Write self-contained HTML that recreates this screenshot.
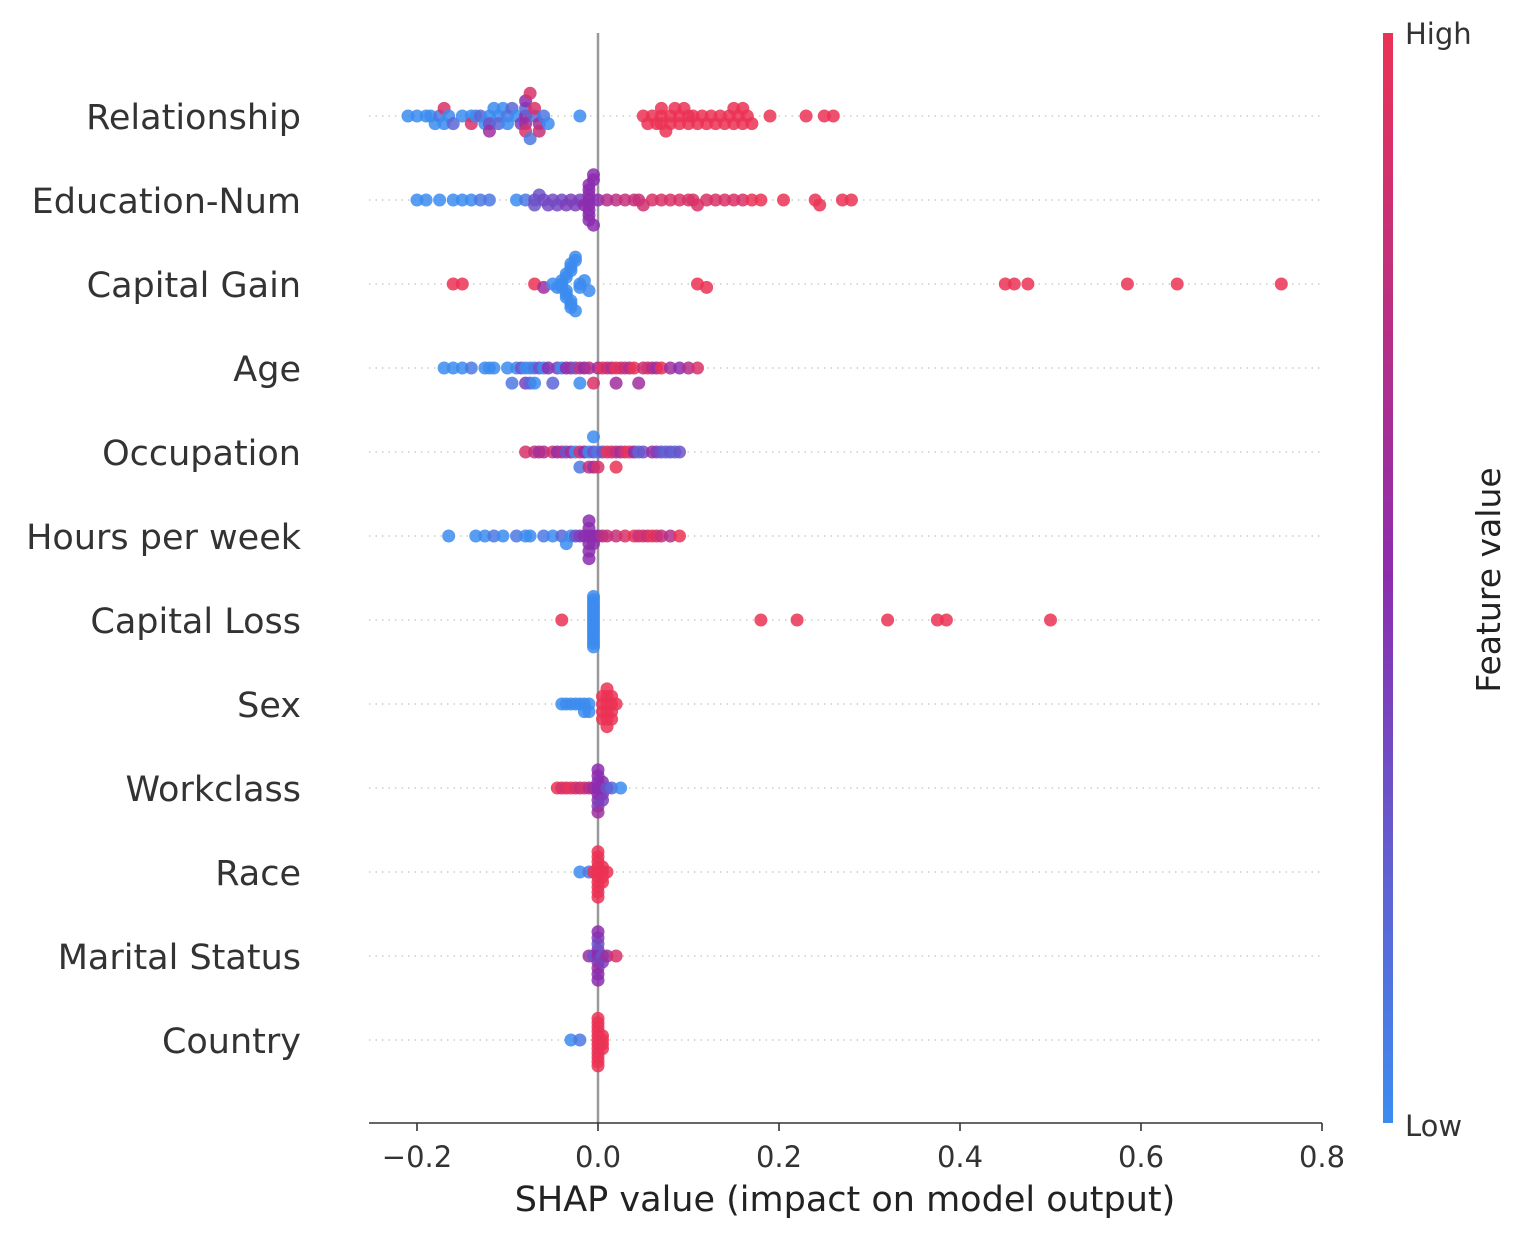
<!DOCTYPE html>
<html><head><meta charset="utf-8">
<style>
html,body{margin:0;padding:0;background:#fff;}
svg{display:block;font-family:"DejaVu Sans","Liberation Sans",sans-serif;}
</style></head>
<body>
<svg id="chart" width="1528" height="1240" viewBox="0 0 1528 1240" xmlns="http://www.w3.org/2000/svg">
<defs>
<linearGradient id="cbar" x1="0" y1="1" x2="0" y2="0">
<stop offset="0" stop-color="rgb(60,140,240)"/>
<stop offset="0.5" stop-color="rgb(140,45,175)"/>
<stop offset="1" stop-color="rgb(235,50,85)"/>
</linearGradient>
</defs>
<g id="grid"></g>
<g id="dots"></g>
<g id="axes"></g>
</svg>
<script>
const features = ["Relationship","Education-Num","Capital Gain","Age","Occupation","Hours per week","Capital Loss","Sex","Workclass","Race","Marital Status","Country"];
const xTicks = [-0.2,0.0,0.2,0.4,0.6,0.8];
const xTickLabels = ["\u22120.2","0.0","0.2","0.4","0.6","0.8"];
const shapValues = [
 [-0.21,-0.2,-0.19,-0.185,-0.18,-0.175,-0.17,-0.165,-0.16,-0.15,-0.14,-0.135,-0.13,-0.125,-0.12,-0.12,-0.115,-0.11,-0.11,-0.105,-0.1,-0.1,-0.095,-0.09,-0.085,-0.08,-0.08,-0.08,-0.08,-0.08,-0.075,-0.07,-0.065,-0.06,-0.055,-0.02,-0.17,-0.14,-0.12,-0.075,-0.07,-0.065,0.05,0.055,0.06,0.065,0.07,0.07,0.07,0.075,0.08,0.08,0.085,0.09,0.09,0.095,0.1,0.1,0.105,0.11,0.115,0.12,0.125,0.13,0.135,0.14,0.145,0.15,0.15,0.155,0.16,0.16,0.165,0.17,0.19,0.23,0.25,0.26],
 [-0.2,-0.19,-0.175,-0.16,-0.15,-0.14,-0.13,-0.12,-0.09,-0.08,-0.07,-0.07,-0.065,-0.06,-0.055,-0.05,-0.045,-0.04,-0.035,-0.03,-0.025,-0.02,-0.015,-0.01,-0.01,-0.01,-0.01,-0.01,-0.01,-0.01,-0.01,-0.005,-0.005,-0.005,0.0,0.01,0.02,0.03,0.04,0.045,0.05,0.06,0.07,0.08,0.09,0.1,0.105,0.11,0.12,0.13,0.14,0.15,0.16,0.17,0.18,0.205,0.24,0.245,0.27,0.28],
 [-0.16,-0.15,-0.07,-0.06,-0.05,-0.045,-0.04,-0.04,-0.04,-0.035,-0.035,-0.035,-0.035,-0.035,-0.03,-0.03,-0.03,-0.03,-0.03,-0.03,-0.025,-0.025,-0.025,-0.02,-0.02,-0.015,-0.01,0.11,0.12,0.45,0.46,0.475,0.585,0.64,0.755],
 [-0.17,-0.16,-0.15,-0.14,-0.125,-0.12,-0.115,-0.1,-0.095,-0.09,-0.085,-0.08,-0.08,-0.075,-0.075,-0.07,-0.07,-0.065,-0.06,-0.055,-0.05,-0.045,-0.04,-0.035,-0.03,-0.025,-0.02,-0.02,-0.015,-0.01,-0.005,0.0,0.005,0.01,0.015,0.02,0.02,0.025,0.03,0.035,0.04,0.045,0.05,0.055,0.06,0.065,0.07,0.08,0.09,0.1,0.11],
 [-0.08,-0.07,-0.065,-0.06,-0.05,-0.045,-0.04,-0.035,-0.03,-0.025,-0.02,-0.02,-0.015,-0.01,-0.01,-0.005,-0.005,-0.005,0.0,0.0,0.005,0.01,0.015,0.02,0.02,0.025,0.03,0.035,0.04,0.045,0.05,0.06,0.065,0.07,0.075,0.08,0.085,0.09],
 [-0.165,-0.135,-0.125,-0.115,-0.105,-0.09,-0.08,-0.075,-0.06,-0.05,-0.04,-0.035,-0.03,-0.025,-0.02,-0.015,-0.01,-0.01,-0.01,-0.01,-0.01,-0.01,-0.005,-0.005,0.0,0.005,0.01,0.02,0.03,0.04,0.045,0.05,0.055,0.06,0.065,0.07,0.08,0.09],
 [-0.04,-0.005,-0.005,-0.005,-0.005,-0.005,-0.005,-0.005,-0.005,-0.005,-0.005,-0.005,-0.005,-0.005,-0.005,-0.005,-0.005,0.18,0.22,0.32,0.375,0.385,0.5],
 [-0.04,-0.035,-0.03,-0.025,-0.02,-0.015,-0.015,-0.01,-0.01,0.005,0.005,0.005,0.005,0.01,0.01,0.01,0.01,0.01,0.01,0.015,0.015,0.015,0.015,0.02],
 [-0.045,-0.04,-0.035,-0.03,-0.025,-0.02,-0.015,-0.01,-0.005,0.0,0.0,0.0,0.0,0.0,0.0,0.0,0.0,0.005,0.005,0.005,0.005,0.01,0.015,0.025],
 [-0.02,-0.01,-0.005,0.0,0.0,0.0,0.0,0.0,0.0,0.0,0.0,0.0,0.0,0.005,0.005,0.005,0.005,0.01],
 [-0.01,-0.005,0.0,0.0,0.0,0.0,0.0,0.0,0.0,0.0,0.0,0.005,0.005,0.01,0.02],
 [-0.03,-0.02,0.0,0.0,0.0,0.0,0.0,0.0,0.0,0.0,0.0,0.0,0.0,0.0,0.005,0.005,0.005,0.005]
];
const featureValues = [
 [0,0,0,0,0,0.1,0,0,0.2,0,0,0,0.2,0,0,0.3,0,0,0.2,0,0.1,0,0.2,0,0.4,0.5,0.6,0.2,0.9,0.5,0.1,0.2,0.6,0.1,0,0,0.9,0.9,0.6,0.9,0.9,0.8,1,1,1,1,1,1,1,1,1,1,1,1,1,1,1,1,1,1,1,1,1,1,1,1,1,1,1,1,1,1,1,1,1,1,1,1],
 [0,0,0,0,0,0,0.1,0.1,0,0.1,0.3,0.3,0.3,0.35,0.35,0.35,0.35,0.35,0.4,0.4,0.4,0.4,0.5,0.5,0.5,0.5,0.5,0.5,0.5,0.5,0.5,0.5,0.5,0.5,0.5,0.7,0.75,0.8,0.8,0.8,0.85,0.9,0.9,0.9,0.9,0.9,0.9,0.9,0.9,0.9,0.9,0.9,0.9,1,1,1,1,1,1,1],
 [1,1,1,0.6,0,0,0,0,0,0,0,0,0,0,0,0,0,0,0,0,0,0,0,0,0,0,0,1,1,1,1,1,1,1,1],
 [0,0,0,0.1,0,0,0,0,0.1,0,0.3,0,0.4,0,0.2,0.1,0,0.3,0,0.5,0.2,0.4,0,0.5,0.6,0.3,0.8,0,0.5,0.7,0.9,0.6,1,0.8,0.7,1,0.6,0.9,0.8,0.7,1,0.6,0.8,0.9,0.7,0.6,1,0.6,0.5,0.7,0.9],
 [0.9,0.8,0.6,0.7,0.9,0.5,0.7,0.3,0.6,0,0.9,0.1,0.5,0,0.8,0.3,0.6,0,0.1,0.9,0.3,1,0.9,0.8,1,0.6,0.9,1,0.5,0.2,0.3,0.6,0.4,0.3,0.2,0.3,0.2,0.3],
 [0,0,0,0.1,0,0.1,0,0,0.1,0,0.2,0,0,0.3,0.4,0.5,0.5,0.5,0.5,0.5,0.5,0.5,0.5,0.5,0.5,0.7,0.8,0.8,0.9,1,0.8,0.9,0.8,1,0.9,0.8,0.7,1],
 [1,0,0,0,0,0,0,0,0,0,0,0,0,0,0,0,0,1,1,1,1,1,1],
 [0,0,0,0,0,0,0,0,0,1,1,1,1,1,1,1,1,1,1,1,1,1,1,1],
 [1,0.9,0.9,1,0.9,0.8,0.9,0.7,0.6,0.5,0.5,0.5,0.5,0.5,0.4,0.5,0.6,0.5,0.5,0.5,0.4,0.3,0.2,0],
 [0,0.1,1,1,1,1,1,1,1,1,1,1,1,1,1,1,1,1],
 [0.6,0.3,0.5,0.4,0.5,0.6,0.3,0.5,0.4,0.5,0.5,0.3,0.4,0.6,0.9],
 [0,0.1,1,1,1,1,1,1,1,1,1,1,1,1,1,1,1,1]
];

const NS = "http://www.w3.org/2000/svg";
const X0 = 598, XS = 905, ROW0 = 116, ROWH = 84, XL = 369, XR = 1322, AXY = 1123;
const NBINS = 50;
function xScale(v){ return X0 + v * XS; }
function yRow(i){ return ROW0 + i * ROWH; }
function colorOf(t){
  const a=[60,140,240], m=[140,45,175], b=[235,50,85];
  let c;
  if(t<0.5){const k=t/0.5; c=a.map((v,j)=>Math.round(v+(m[j]-v)*k));}
  else {const k=(t-0.5)/0.5; c=m.map((v,j)=>Math.round(v+(b[j]-v)*k));}
  return "rgb("+c.join(",")+")";
}
function mk(tag, attrs, parent){
  const e=document.createElementNS(NS,tag);
  for(const k in attrs) e.setAttribute(k, attrs[k]);
  parent.appendChild(e); return e;
}
const grid=document.getElementById("grid"), dots=document.getElementById("dots"), axes=document.getElementById("axes");

features.forEach((f,i)=>{
  const gl=mk("line",{x1:XL,x2:XR,y1:yRow(i),y2:yRow(i),stroke:"#cccccc","stroke-width":1.5,"stroke-dasharray":"1.5,5"},grid);
  
  
  const t=mk("text",{x:301,y:yRow(i)+13,"text-anchor":"end","font-size":35,fill:"#333"},axes);
  t.textContent=f;
  
  
});

const zl=mk("line",{x1:xScale(0),x2:xScale(0),y1:33,y2:AXY,stroke:"#999","stroke-width":2.5},grid);



features.forEach((f,i)=>{
  const s=shapValues[i], fv=featureValues[i], n=s.length;
  const mn=Math.min(...s), mx=Math.max(...s);
  const quant=s.map(v=>Math.round(NBINS*(v-mn)/((mx-mn)||1e-8)));
  const idx=[...Array(n).keys()].sort((a,b)=>quant[a]-quant[b] || a-b);
  const ys=new Array(n).fill(0);
  let layer=0,last=-1;
  idx.forEach(k=>{
    if(quant[k]!==last) layer=0;
    ys[k]=Math.ceil(layer/2)*((layer%2)*2-1);
    layer++; last=quant[k];
  });
  const my=Math.max(...ys.map(y=>Math.abs(y)))+1;
  const scale=0.9*0.4/my*ROWH;
  idx.forEach(k=>{
    const c=mk("circle",{cx:xScale(s[k]).toFixed(1),cy:(yRow(i)+ys[k]*scale).toFixed(1),r:6.5,fill:colorOf(fv[k]),"fill-opacity":0.85},dots);
    
    
  });
});

const ax=mk("line",{x1:XL,x2:XR,y1:AXY,y2:AXY,stroke:"#333","stroke-width":1.6},axes);


xTicks.forEach((v,j)=>{
  const tk=mk("line",{x1:xScale(v),x2:xScale(v),y1:AXY,y2:AXY+8,stroke:"#333","stroke-width":1.6},axes);
  
  
  const tl=mk("text",{x:xScale(v),y:AXY+44,"text-anchor":"middle","font-size":29,fill:"#333"},axes);
  tl.textContent=xTickLabels[j];
  
  
});
const xt=mk("text",{x:845,y:1211,"text-anchor":"middle","font-size":35,fill:"#222"},axes);
xt.textContent="SHAP value (impact on model output)";



const cb=mk("rect",{x:1383,y:33,width:10,height:1090,fill:"url(#cbar)"},axes);


const hi=mk("text",{x:1405,y:44,"font-size":29,fill:"#333"},axes);
hi.textContent="High";


const lo=mk("text",{x:1405,y:1136,"font-size":29,fill:"#333"},axes);
lo.textContent="Low";


const fvl=mk("text",{x:1500,y:580,"text-anchor":"middle","font-size":33,fill:"#222",transform:"rotate(-90 1500 580)"},axes);
fvl.textContent="Feature value";


</script>
</body></html>
